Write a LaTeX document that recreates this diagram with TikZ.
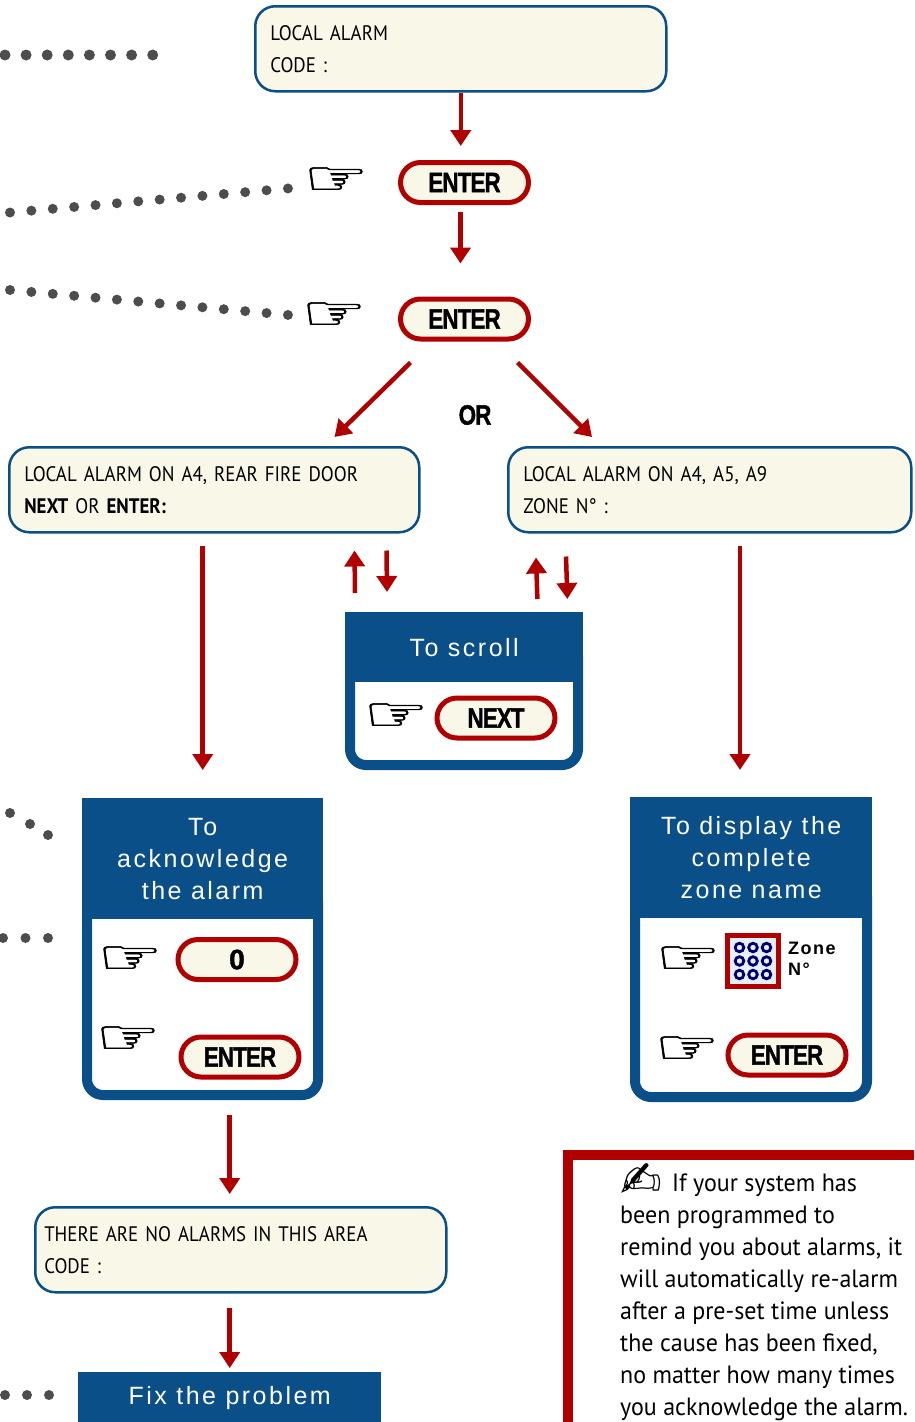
\documentclass[tikz,border=0pt]{standalone}
\usepackage{fontspec}
\usepackage{graphicx}
\usetikzlibrary{arrows.meta}
\setmainfont{Liberation Sans}
\newfontfamily\lcdfont{PT Sans}[FakeStretch=0.9]
\newfontfamily\notefont{PT Sans}[FakeStretch=0.96]
\newfontfamily\headfont{Liberation Sans}[LetterSpace=10]
\newfontfamily\zonefont{Liberation Sans}[LetterSpace=8]
\newfontfamily\keyfont{Liberation Sans}[LetterSpace=-4,FakeBold=1.5]
\newfontfamily\symfont{DejaVu Sans}
\newfontfamily\handfont{DejaVu Sans}[FakeBold=1]

\definecolor{boxblue}{RGB}{10,79,135}
\definecolor{keyred}{RGB}{176,0,0}
\definecolor{lcdcream}{RGB}{248,247,232}
\definecolor{dotgray}{RGB}{77,77,77}
\definecolor{padblue}{RGB}{232,238,248}
\definecolor{padnavy}{RGB}{0,0,110}

\newcommand{\keylabel}[1]{\scalebox{0.8}[1]{#1}}
\newcommand{\pointer}{\scalebox{1.3}[0.85]{☞}}

\tikzset{
  lcd/.style={rectangle, rounded corners=20pt, draw=boxblue, line width=2.5pt, fill=lcdcream,
    anchor=north west, align=left, inner xsep=15pt, minimum height=85pt,
    font=\lcdfont\fontsize{21}{32}\selectfont},
  keybtn/.style={rectangle, rounded corners=20pt, draw=keyred, line width=5pt, fill=lcdcream,
    minimum width=118pt, minimum height=40pt, inner sep=0pt,
    font=\keyfont\bfseries\fontsize{28}{28}\selectfont},
  panelbody/.style={rectangle, rounded corners=16pt, draw=boxblue, line width=10pt, fill=white,
    anchor=north west, inner sep=0pt},
  panelhead/.style={rectangle, fill=boxblue, anchor=north west, inner sep=0pt, text=white,
    align=center, font=\headfont\fontsize{25}{32}\selectfont},
  hand/.style={inner sep=0pt, font=\handfont\fontsize{56}{56}\selectfont},
  redarrow/.style={draw=keyred, line width=4.5pt, -{Triangle[width=20pt,length=16pt]}},
  dot/.style={fill=dotgray}
}

\begin{document}
\begin{tikzpicture}[x=1pt, y=-1pt]
\useasboundingbox (0,0) rectangle (914,1422);
\clip (0,0) rectangle (914,1422);

% dotted leaders on the left
\foreach \i in {0,...,7} \fill[dot] (5+21.1*\i,55) circle [radius=5.5pt];
\foreach \i in {0,...,13} \fill[dot] (10+21.38*\i,212.5-1.85*\i) circle [radius=5pt];
\foreach \i in {0,...,13} \fill[dot] (10+21.38*\i,290+1.92*\i) circle [radius=5pt];
\fill[dot] (10,813) circle [radius=5pt];
\fill[dot] (30,824) circle [radius=5pt];
\fill[dot] (48,835) circle [radius=5pt];
\foreach \x in {3,25.5,48} \fill[dot] (\x,938) circle [radius=5pt];
\foreach \x in {5,27,49} \fill[dot] (\x,1395) circle [radius=5pt];

% displays
\node[lcd, text width=381pt] (lcdtop) at (254,5) {LOCAL ALARM\\CODE :};
\node[lcd, text width=380pt] (lcdleft) at (8,446) {LOCAL ALARM ON A4, REAR FIRE DOOR\\\textbf{NEXT} OR \textbf{ENTER:}};
\node[lcd, text width=373pt] (lcdright) at (507,446) {LOCAL ALARM ON A4, A5, A9\\ZONE N° :};
\node[lcd, text width=393pt, inner xsep=9pt] (lcdbot) at (34,1206) {THERE ARE NO ALARMS IN THIS AREA\\CODE :};

% keys
\node[keybtn, minimum width=128pt] (enter1) at (464.5,182.5) {\keylabel{ENTER}};
\node[keybtn, minimum width=128pt] (enter2) at (464.5,319) {\keylabel{ENTER}};
\node[hand] (hand1) at (336,181) {\pointer};
\node[hand] (hand2) at (334,316) {\pointer};
\node[font=\keyfont\bfseries\fontsize{28}{28}\selectfont] (or) at (475,415) {\keylabel{OR}};

% scroll panel
\node[panelbody, minimum width=228pt, minimum height=125pt] (scrollbody) at (345,635) {};
\node[panelhead, minimum width=238pt, minimum height=70pt] (scrollhead) at (345,612) {To scroll};
\node[hand] (hand3) at (396,717) {\pointer};
\node[keybtn] (next) at (496,718) {\keylabel{NEXT}};

% acknowledge panel
\node[panelbody, minimum width=231pt, minimum height=210pt] (ackbody) at (82,880) {};
\node[panelhead, minimum width=241pt, minimum height=121pt] (ackhead) at (82,798) {To\\acknowledge\\the alarm};
\node[hand] (hand4) at (130,960) {\pointer};
\node[keybtn] (zero) at (237,959.5) {0};
\node[hand] (hand5) at (128,1040) {\pointer};
\node[keybtn] (enter3) at (240,1057) {\keylabel{ENTER}};

% zone name panel
\node[panelbody, minimum width=232pt, minimum height=217pt] (zonebody) at (630,875) {};
\node[panelhead, minimum width=242pt, minimum height=121pt] (zonehead) at (630,797) {To display the\\complete\\zone name};
\node[hand] (hand6) at (688,960) {\pointer};
\node[draw=keyred, line width=4.5pt, fill=padblue, minimum size=51pt] (pad) at (753,961) {};
\foreach \i in {-1,0,1}
  \foreach \j in {-1,0,1}
    \draw[padnavy, line width=2.8pt] ([shift={(\i*13.5pt,\j*13.5pt)}]pad.center) circle [radius=4.3pt];
\node[anchor=west, align=left, inner sep=0pt, font=\zonefont\bfseries\fontsize{18}{21}\selectfont] (zonelbl) at (788,959) {Zone\\N°};
\node[hand] (hand7) at (687,1050) {\pointer};
\node[keybtn] (enter4) at (787,1055) {\keylabel{ENTER}};

% fix the problem
\node[panelhead, minimum width=303pt, minimum height=52pt] (fix) at (78,1372) {Fix the problem};

% note
\node[draw=keyred, line width=10pt, anchor=north west, minimum width=400pt, minimum height=320pt] (notebox) at (563,1150) {};
\node[anchor=north west, align=left, inner sep=0pt, font=\notefont\fontsize{25}{32}\selectfont] (note) at (620,1174)
  {\smash{\raisebox{-6pt}{\symfont\fontsize{50}{32}\selectfont ✍}}\hspace{10pt}If your system has\\been programmed to\\remind you about alarms, it\\will automatically re-alarm\\after a pre-set time unless\\the cause has been fixed,\\no matter how many times\\you acknowledge the alarm.};

% arrows
\coordinate (zonein) at (740,770);
\draw[redarrow, shorten >=14pt] (lcdtop.south) -- (lcdtop.south |- enter1.north);
\draw[redarrow, shorten <=7pt, shorten >=33pt] ([xshift=-4pt]enter1.south) -- ([xshift=-4pt]enter2.north);
\draw[redarrow] ([xshift=-54pt,yshift=-21pt]enter2.south) -- ([xshift=-86pt,yshift=9pt]lcdleft.north east);
\draw[redarrow] ([xshift=53pt,yshift=-21pt]enter2.south) -- ([xshift=85pt,yshift=9pt]lcdright.north west);
\draw[redarrow, shorten <=12pt, shorten >=28pt] (lcdleft.south -| ackhead.north) -- (ackhead.north);
\draw[redarrow, shorten <=12pt] (lcdright.south -| zonein) -- (zonein);
\draw[redarrow] ([xshift=10pt,yshift=19pt]scrollhead.north west) -- ([xshift=-66pt,yshift=-17pt]lcdleft.south east);
\draw[redarrow] ([xshift=-34pt,yshift=-17pt]lcdleft.south east) -- ([xshift=42pt,yshift=20pt]scrollhead.north west);
\draw[redarrow] ([xshift=-46pt,yshift=13pt]scrollhead.north east) -- ([xshift=29pt,yshift=-24pt]lcdright.south west);
\draw[redarrow] ([xshift=59pt,yshift=-23pt]lcdright.south west) -- ([xshift=-16pt,yshift=13pt]scrollhead.north east);
\draw[redarrow, shorten <=15pt, shorten >=12pt] (fix.north |- ackbody.south) -- (fix.north |- lcdbot.north);
\draw[redarrow, shorten <=14pt, shorten >=4pt] (lcdbot.south -| fix.north) -- (fix.north);
\end{tikzpicture}
\end{document}
